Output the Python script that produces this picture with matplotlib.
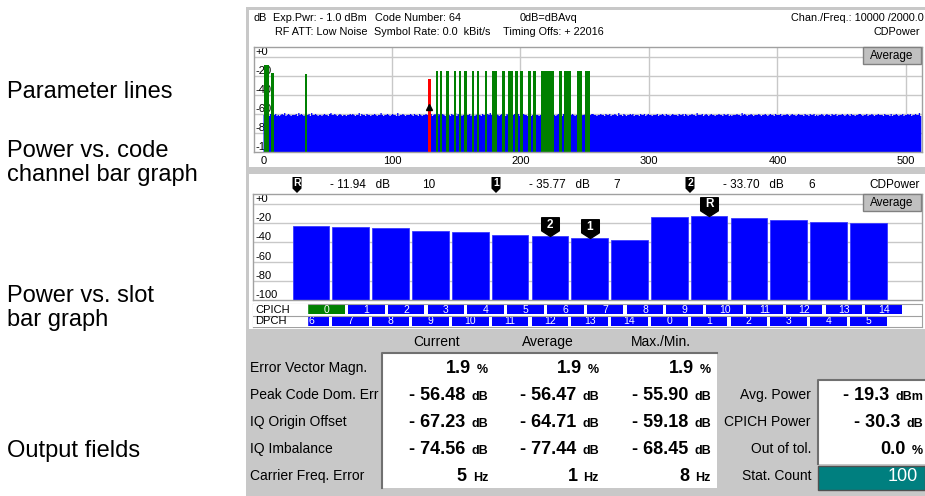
import numpy as np
import matplotlib
matplotlib.use("Agg")
import matplotlib.pyplot as plt
from matplotlib.patches import Rectangle, Polygon
from matplotlib.path import Path

plt.rcParams['font.family'] = ['Liberation Sans', 'DejaVu Sans']

W, H = 925, 496

# captions on the left
captions = ["Parameter lines", "Power vs. code\nchannel bar graph", "Power vs. slot\nbar graph", "Output fields"]
caption_y = [92, 163, 308, 451]

# parameter lines
header1 = ["dB", "Exp.Pwr: - 1.0 dBm", "Code Number: 64", "0dB=dBAvq", "Chan./Freq.: 10000 /2000.0"]
header2 = ["RF ATT: Low Noise", "Symbol Rate: 0.0  kBit/s", "Timing Offs: + 22016", "CDPower"]

# code domain power, noise floor per code (dB = -64 + digit)
noise_digits = (
    "3433243534232343523432333425343233342533432332343324533432343233"
    "2334343233524332433233432335323343234332523343233343243324323343"
    "3342343243343233324335243323433342332343324332435323343234232433"
    "3234334233433234233433234332533234323433243334234323334233432334"
    "4332334332433423343253324323343423332433423433233342334324332343"
    "3324334243233433253334234323433233433243342323334332534323343233"
    "3432334323433243334233343234332343332433243342323343234332433423"
    "3343234324332334432334233432334333243332423343233423343423343352"
)
code_ticks = [0, 100, 200, 300, 400, 500]

# active channels (start code, width in codes, level dB)
green_start = [0, 6, 32, 134, 137, 142, 148, 152, 156, 162, 166, 172, 178, 186, 190, 196,
               200, 206, 210, 216, 230, 234, 244, 250]
green_width = [4, 2, 2, 2, 2, 2, 2, 2, 2, 2, 2, 2, 4, 2, 4, 2, 2, 2, 2, 10, 2, 5, 4, 4]
green_level = [-8.0, -16.5, -17.5] + [-15.2] * 21
red_start, red_width, red_level = [128], [2], [-23.0]

# power vs slot
slots = list(range(15))
slot_power = [-22.7, -23.7, -25.1, -28.0, -29.3, -31.9, -33.70, -35.77, -37.5,
              -13.4, -11.94, -14.6, -16.1, -18.5, -19.8]
cpich_labels = [str(s) for s in slots]
dpch_labels = ["6", "7", "8", "9", "10", "11", "12", "13", "14", "0", "1", "2", "3", "4", "5"]
marker_names = ["R", "1", "2"]
marker_slots = [10, 7, 6]
marker_text = ["- 11.94   dB", "- 35.77   dB", "- 33.70   dB"]
db_ticks = [0, -20, -40, -60, -80, -100]
db_labels = ["+0", "-20", "-40", "-60", "-80", "-100"]

# output fields
col_names = ["Current", "Average", "Max./Min."]
row_names = ["Error Vector Magn.", "Peak Code Dom. Err", "IQ Origin Offset", "IQ Imbalance", "Carrier Freq. Error"]
current = ["1.9", "- 56.48", "- 67.23", "- 74.56", "5"]
average = ["1.9", "- 56.47", "- 64.71", "- 77.44", "1"]
maxmin = ["1.9", "- 55.90", "- 59.18", "- 68.45", "8"]
units = ["%", "dB", "dB", "dB", "Hz"]
right_names = ["Avg. Power", "CPICH Power", "Out of tol.", "Stat. Count"]
right_values = ["- 19.3", "- 30.3", "0.0", "100"]
right_units = ["dBm", "dB", "%", ""]

GRAY = "#c8c8c8"
GRID = "#c8c8c8"
BLUE = "#0000ff"
GREEN = "#008000"
HFS = 7.8  # small instrument font

fig = plt.figure(figsize=(W / 100, H / 100), dpi=100)
renderer = fig.canvas.get_renderer()


def px_axes(x0, y0, x1, y1, **kw):
    return fig.add_axes([x0 / W, 1 - y1 / H, (x1 - x0) / W, (y1 - y0) / H], **kw)


def pixel_canvas(z):
    a = fig.add_axes([0, 0, 1, 1], zorder=z)
    a.set_xlim(0, W)
    a.set_ylim(H, 0)
    a.axis('off')
    a.patch.set_alpha(0)
    return a


bg = pixel_canvas(0)
fg = pixel_canvas(10)

# frame pieces of the instrument screen
bg.add_patch(Rectangle((247, 6.5), W - 247, 3.5, color=GRAY, lw=0))
bg.add_patch(Rectangle((247, 167), W - 247, 7, color=GRAY, lw=0))
bg.add_patch(Rectangle((246, 6.5), 3, 325, color=GRAY, lw=0))
bg.add_patch(Rectangle((246, 329), W - 246, H - 329, color=GRAY, lw=0))

for txt, y in zip(captions, caption_y):
    bg.text(7, y, txt, fontsize=17, va='center', ha='left', linespacing=1.15)

# parameter lines
for txt, x in zip(header1[:4], [254, 273, 375, 520]):
    bg.text(x, 18, txt, fontsize=HFS, va='center')
bg.text(924, 18, header1[4], fontsize=HFS, va='center', ha='right')
for txt, x in zip(header2[:3], [275, 374, 503]):
    bg.text(x, 32, txt, fontsize=HFS, va='center')
bg.text(920, 32, header2[3], fontsize=HFS, va='center', ha='right')


def style_frame(ax):
    for s in ax.spines.values():
        s.set_color("#a0a0a0")
        s.set_linewidth(1)
    ax.set_yticks([])


# ---- code domain power graph
ax1 = px_axes(254, 47, 922, 152)
ax1.set_xlim(-7.4, 512.5)
ax1.set_ylim(-100, 10.5)
style_frame(ax1)
for v in code_ticks[1:]:
    ax1.axvline(v, color=GRID, lw=1, zorder=0)
for t, lab in zip(db_ticks, db_labels):
    if t > -100:
        ax1.axhline(t, color=GRID, lw=1, zorder=0)
    ax1.text(0.002, t, lab, transform=ax1.get_yaxis_transform(), fontsize=8,
             va='bottom', ha='left', zorder=0.5)
noise_db = np.array([-64 + int(c) for c in noise_digits], dtype=float)
ax1.stairs(noise_db, np.arange(len(noise_db) + 1), baseline=-100, fill=True,
           color=BLUE, lw=0, zorder=1)
ax1.bar(green_start, np.array(green_level) + 100, width=green_width, bottom=-100,
        align='edge', color=GREEN, lw=0, zorder=2)
ax1.bar(red_start, np.array(red_level) + 100, width=red_width, bottom=-100,
        align='edge', color='#ff0000', lw=0, zorder=2)
ax1.plot([red_start[0] + 1], [-53], marker='^', color='black', ms=5, zorder=3)
ax1.set_xticks(code_ticks)
ax1.tick_params(axis='x', length=0, labelsize=8, pad=3)


# ---- power vs slot graph
ax2 = px_axes(253, 194, 922, 300)
ax2.set_xlim(-1.457, 15.35)
ax2.set_ylim(-100, 10.5)
style_frame(ax2)
ax2.set_xticks([])
for t, lab in zip(db_ticks, db_labels):
    if t > -100:
        ax2.axhline(t, color=GRID, lw=1, zorder=0)
    ax2.text(0.003, t, lab, transform=ax2.get_yaxis_transform(), fontsize=8,
             va='bottom', ha='left', zorder=0.5)
ax2.bar(slots, np.array(slot_power) + 100, bottom=-100, width=0.92,
        color=BLUE, edgecolor='#3a3aff', lw=0.6, zorder=2)

pent = Path([(0, 0), (0.47, 0.3), (0.47, 1), (-0.47, 1), (-0.47, 0.3), (0, 0)],
            [Path.MOVETO, Path.LINETO, Path.LINETO, Path.LINETO, Path.LINETO, Path.CLOSEPOLY])
for name, s in zip(marker_names, marker_slots):
    ax2.plot([s], [slot_power[s]], marker=pent, ms=27, color='black', lw=0,
             clip_on=False, zorder=4)
    ax2.annotate(name, (s, slot_power[s]), xytext=(0, 8.5), textcoords='offset points',
                 ha='center', va='center', color='white', fontweight='bold',
                 fontsize=8.5, zorder=5)

# ---- CPICH / DPCH slot rows
ax3 = px_axes(253, 304, 922, 327)
ax3.set_xlim(ax2.get_xlim())
ax3.set_ylim(0, 2)
ax3.set_xticks([])
ax3.set_yticks([])
for s in ax3.spines.values():
    s.set_color("#a0a0a0")
cp_x = np.array(slots) + 0.39
ax3.bar(cp_x, 0.82, bottom=1.09, width=0.92,
        color=[GREEN if s == 0 else BLUE for s in slots], lw=0)
ax3.bar(slots, 0.82, bottom=0.09, width=0.92, color=BLUE, lw=0)
for x, lab in zip(cp_x, cpich_labels):
    ax3.text(x, 1.5, lab, color='white', fontsize=7.5, ha='center', va='center')
for x, lab in zip(slots, dpch_labels):
    ax3.text(x, 0.5, lab, color='white', fontsize=7.5, ha='center', va='center')
ax3.add_patch(Rectangle((-1.457, 0), 1.36, 2, color='white', zorder=5))
ax3.axhline(1, color='#a0a0a0', lw=0.8, zorder=6)
ax3.text(-1.40, 1.5, "CPICH", fontsize=8, va='center', zorder=6)
ax3.text(-1.40, 0.5, "DPCH", fontsize=8, va='center', zorder=6)


# ---- overlay: Average buttons and marker readouts
def button(x0, y0, x1, y1):
    fg.add_patch(Rectangle((x0, y0), x1 - x0, y1 - y0, facecolor="#c0c0c0",
                           edgecolor="#808080", lw=1))
    fg.text((x0 + x1) / 2, (y0 + y1) / 2 + 0.5, "Average", fontsize=8.5,
            ha='center', va='center')


def small_marker(cx, ytop, label):
    w, h = 9, 16
    pts = [(cx - w / 2, ytop), (cx + w / 2, ytop), (cx + w / 2, ytop + h * 0.72),
           (cx, ytop + h), (cx - w / 2, ytop + h * 0.72)]
    fg.add_patch(Polygon(pts, closed=True, color='black', lw=0))
    fg.text(cx, ytop + h * 0.38, label, color='white', fontsize=7.5,
            fontweight='bold', ha='center', va='center')


button(863, 47, 921, 64)
button(863, 194, 921, 211)

for name, s, txt, x, xn in zip(marker_names, marker_slots, marker_text,
                               [297, 496, 690], [422, 613, 808]):
    small_marker(x, 177, name)
    fg.text(x + 33, 185, txt, fontsize=8.5, va='center')
    fg.text(xn, 185, str(s), fontsize=8.5, va='center')
fg.text(920, 185, "CDPower", fontsize=8.5, va='center', ha='right')

# ---- output fields
bg.add_patch(Rectangle((382, 353), 335, 135, facecolor='white', edgecolor='none'))
bg.plot([382, 382, 717], [488, 353, 353], color='#707070', lw=1.5)
bg.add_patch(Rectangle((818, 380), 107, 84, facecolor='white', edgecolor='none'))
bg.plot([818, 818, 925], [464, 380, 380], color='#707070', lw=1.5)
bg.add_patch(Rectangle((818, 466), 107, 24, facecolor='#007f7f', edgecolor='#505050', lw=1))

for name, x in zip(col_names, [437, 548, 661]):
    bg.text(x, 342, name, fontsize=10, ha='center', va='center')

rows_y = [367, 394, 421, 448, 475]


def value(x_right, y, num, unit, color='black'):
    w = 0
    if unit:
        t = bg.text(x_right, y + 6, unit, fontsize=9, fontweight='bold', ha='right',
                    va='baseline', color=color)
        w = t.get_window_extent(renderer).width + 6
    bg.text(x_right - w, y + 6, num, fontsize=13, fontweight='bold', ha='right',
            va='baseline', color=color)


for i, name in enumerate(row_names):
    bg.text(250, rows_y[i] + 5, name, fontsize=10, va='baseline')
    for col, x_right in zip([current, average, maxmin], [488, 599, 711]):
        value(x_right, rows_y[i], col[i], units[i])

for i, name in enumerate(right_names):
    y = rows_y[i + 1]
    bg.text(811, y + 5, name, fontsize=10, va='baseline', ha='right')
    if right_units[i]:
        value(923, y, right_values[i], right_units[i])
    else:
        bg.text(918, y + 6, right_values[i], fontsize=13, color='white',
                ha='right', va='baseline')

fig.savefig("out.png", dpi=100)
